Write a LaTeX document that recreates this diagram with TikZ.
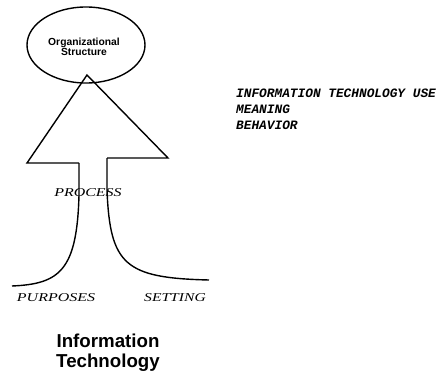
\documentclass[tikz,border=0pt]{standalone}
\usepackage{fontspec}
\usepackage{graphicx}
\usetikzlibrary{shapes.geometric}
\setmainfont{Liberation Serif}
\newfontfamily\hsans{Liberation Sans}
\newfontfamily\tw{Liberation Mono}
\tikzset{
  stroke/.style={line width=1.4pt, line join=miter},
  itlabel/.style={inner sep=0pt, font=\fontsize{12}{12}\selectfont\itshape},
  rtext/.style={inner sep=0pt, anchor=west, align=left, font=\tw\bfseries\itshape\fontsize{12.8}{16}\selectfont},
  title/.style={inner sep=0pt, align=center, font=\hsans\bfseries\fontsize{18.7}{20}\selectfont},
  ovaltext/.style={inner sep=0pt, align=center, font=\hsans\bfseries\fontsize{10.3}{10}\selectfont}
}
\begin{document}
\begin{tikzpicture}[x=1pt,y=-1pt]
\useasboundingbox (0,0) rectangle (440,372);
\node[draw, stroke, ellipse, minimum width=118pt, minimum height=76pt, inner sep=0pt] (org) at (86,45) {};
\node[ovaltext] (orgt) at (84,47) {Organizational\\Structure};
\coordinate (apex) at (87,75);
\coordinate (bl) at (27,163);
\coordinate (br) at (168,158);
\coordinate (sl) at (79,163);
\coordinate (sr) at (107,158);
\coordinate (ll) at (12,286);
\coordinate (rr) at (209,280);
\draw[stroke] (sl) -- (bl) -- (apex) -- (br) -- (sr);
\draw[stroke] (sl) -- (79,195) .. controls (77,270) and (60,284) .. (ll);
\draw[stroke] (sr) -- (107,190) .. controls (110,265) and (125,278) .. (rr);
\node[itlabel] (proc) at (88,193) {\scalebox{1.33}[1]{PROCESS}};
\node[itlabel] (purp) at (56,298) {\scalebox{1.33}[1]{PURPOSES}};
\node[itlabel] (sett) at (175,298) {\scalebox{1.3}[1]{SETTING}};
\node[title] (it) at (108,353) {Information\\Technology};
\node[rtext] (itu) at (236,109) {INFORMATION TECHNOLOGY USE\\MEANING\\BEHAVIOR};
\end{tikzpicture}
\end{document}
